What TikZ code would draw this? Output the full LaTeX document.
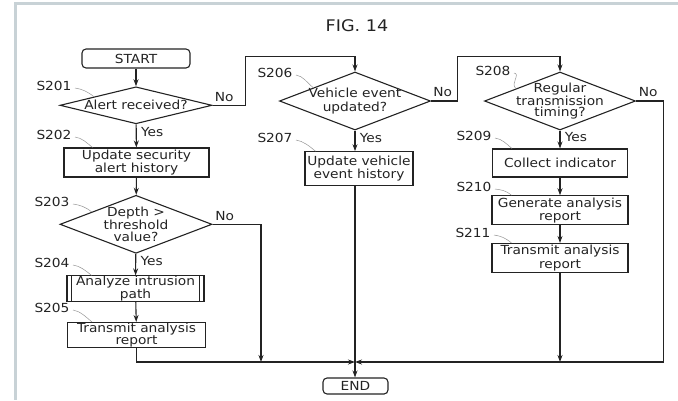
\documentclass[tikz,border=0pt]{standalone}
\usepackage{fontspec}
\setmainfont{DejaVu Sans}[FakeStretch=1.1]
\usepackage{xcolor}
\definecolor{fcframe}{RGB}{200,210,214}
\definecolor{fcline}{RGB}{35,35,35}
\definecolor{fcleader}{RGB}{150,150,150}
\usetikzlibrary{arrows.meta, positioning, shapes.geometric, calc}

\begin{document}
\begin{tikzpicture}[x=1pt, y=-1pt,
  every node/.style={font=\fontsize{12.5}{13.5}\selectfont, text=fcline},
  tight/.style={font=\fontsize{12.5}{11.5}\selectfont},
  box/.style={draw=fcline, line width=1.1pt, minimum width=136pt, minimum height=29pt, inner sep=0pt, align=center},
  term/.style={box, rounded corners=4pt},
  dec/.style={draw=fcline, line width=1.1pt, diamond, inner sep=0pt, minimum width=152pt, minimum height=37pt},
  dtext/.style={align=center},
  flow/.style={draw=fcline, line width=1.1pt, -{Stealth[length=7pt, width=5pt]}},
  link/.style={draw=fcline, line width=1.1pt},
  leader/.style={draw=fcleader, line width=0.5pt}]
  \useasboundingbox (0,0) rectangle (678,400);
  % frame strips
  \fill[fcframe] (14,2) rectangle (678,4.5);
  \fill[fcframe] (14,2) rectangle (16.5,400);

  \node[font=\fontsize{16}{18}\selectfont] (title) at (357,26) {FIG. 14};

  % left column
  \node[term, minimum width=108pt, minimum height=19pt] (start) at (136,58.5) {START};
  \node[dec, label={[dtext]center:Alert received?}] (s201) at (136,105.3) {};
  \node[box, minimum width=145pt] (s202) at (136.5,162.5) {Update security\\alert history};
  \node[dec, minimum height=58pt, label={[dtext, tight]center:Depth >\\threshold\\value?}] (s203) at (136,224.3) {};
  \node[box, tight, minimum width=137pt, minimum height=25pt] (s204) at (135.5,288.5) {Analyze intrusion\\path};
  \draw[link] ([xshift=5pt]s204.north west) -- ([xshift=5pt]s204.south west);
  \draw[link] ([xshift=-5pt]s204.north east) -- ([xshift=-5pt]s204.south east);
  \node[box, tight, minimum width=138pt, minimum height=25pt] (s205) at (136.5,335) {Transmit analysis\\report};

  % middle column
  \node[dec, minimum width=151pt, minimum height=58pt, label={[dtext]center:Vehicle event\\updated?}] (s206) at (355,101) {};
  \node[box, minimum width=108pt, minimum height=34pt] (s207) at (359,168.7) {Update vehicle\\event history};
  \node[term, minimum width=65pt, minimum height=16pt] (end) at (355.5,386) {END};

  % right column
  \node[dec, minimum width=151pt, minimum height=58pt, label={[dtext, tight]center:Regular\\transmission\\timing?}] (s208) at (560,101) {};
  \node[box, minimum width=135pt, minimum height=28pt] (s209) at (560,163) {Collect indicator};
  \node[box] (s210) at (560,210.3) {Generate analysis\\report};
  \node[box] (s211) at (560,258) {Transmit analysis\\report};

  \coordinate (merge) at (355,362);
  \coordinate (drop) at (261,362);

  % step labels
  \node (l201) at (54,86) {S201};
  \node (l202) at (54,135) {S202};
  \node (l203) at (52,202) {S203};
  \node (l204) at (52,263) {S204};
  \node (l205) at (52,308) {S205};
  \node (l206) at (275,73) {S206};
  \node (l207) at (275,138) {S207};
  \node (l208) at (493,71) {S208};
  \node (l209) at (474,136) {S209};
  \node (l210) at (474,187) {S210};
  \node (l211) at (473,233) {S211};

  \draw[leader] ([yshift=-2pt]l201.east) .. controls +(7,1) and +(-6,-5) .. ($(s201.north)!0.55!(s201.west)$);
  \draw[leader] ([yshift=-2pt]l202.east) .. controls +(7,1) and +(-6,-5) .. ([xshift=29pt]s202.north west);
  \draw[leader] ([yshift=-2pt]l203.east) .. controls +(7,1) and +(-6,-5) .. ($(s203.north)!0.58!(s203.west)$);
  \draw[leader] ([yshift=-2pt]l204.east) .. controls +(7,1) and +(-6,-5) .. ([xshift=25pt]s204.north west);
  \draw[leader] ([yshift=-2pt]l205.east) .. controls +(7,1) and +(-6,-5) .. ([xshift=25pt]s205.north west);
  \draw[leader] ([yshift=-2pt]l206.east) .. controls +(7,1) and +(-6,-5) .. ($(s206.north)!0.55!(s206.west)$);
  \draw[leader] ([yshift=-2pt]l207.east) .. controls +(7,1) and +(-6,-5) .. ([xshift=11pt]s207.north west);
  \draw[leader] ([yshift=-2pt]l208.east) .. controls +(7,1) and +(-6,-5) .. ($(s208.north)!0.58!(s208.west)$);
  \draw[leader] ([yshift=-2pt]l209.east) .. controls +(7,1) and +(-6,-5) .. ([xshift=20pt]s209.north west);
  \draw[leader] ([yshift=-2pt]l210.east) .. controls +(7,1) and +(-6,-5) .. ([xshift=20pt]s210.north west);
  \draw[leader] ([yshift=-2pt]l211.east) .. controls +(7,1) and +(-6,-5) .. ([xshift=20pt]s211.north west);

  % connectors
  \draw[flow] (start) -- (s201);
  \draw[flow] (s201) -- node[pos=0.35, right=1pt] {Yes} (s202);
  \draw[flow] (s202) -- (s203);
  \draw[flow] (s203) -- node[pos=0.35, right=1pt] {Yes} (s204);
  \draw[flow] (s204) -- (s205);
  \draw[flow] (s205.south) |- (merge);
  \draw[flow] (s203.east) -- node[pos=0.25, above] {No} (s203.east -| drop) -- (drop);
  \draw[flow] (s201.east) -- ++(33,0) node[pos=0.35, above] {No} |- ($(s206.north)+(0,-15)$) -- (s206.north);

  \draw[flow] (s206.south) -- node[pos=0.35, right=1pt] {Yes} (s206.south |- s207.north);
  \draw[flow] (s206.south |- s207.south) -- (s206.south |- end.north);
  \draw[flow] (s206.east) -- ++(26,0) node[pos=0.45, above] {No} |- ($(s208.north)+(0,-15)$) -- (s208.north);

  \draw[flow] (s208) -- node[pos=0.35, right=1pt] {Yes} (s209);
  \draw[flow] (s209) -- (s210);
  \draw[flow] (s210) -- (s211);
  \draw[flow] (s211.south) -- (s211.south |- merge);
  \draw[flow] (s208.east) -- ++(27,0) node[pos=0.45, above] {No} |- (merge);
\end{tikzpicture}
\end{document}
